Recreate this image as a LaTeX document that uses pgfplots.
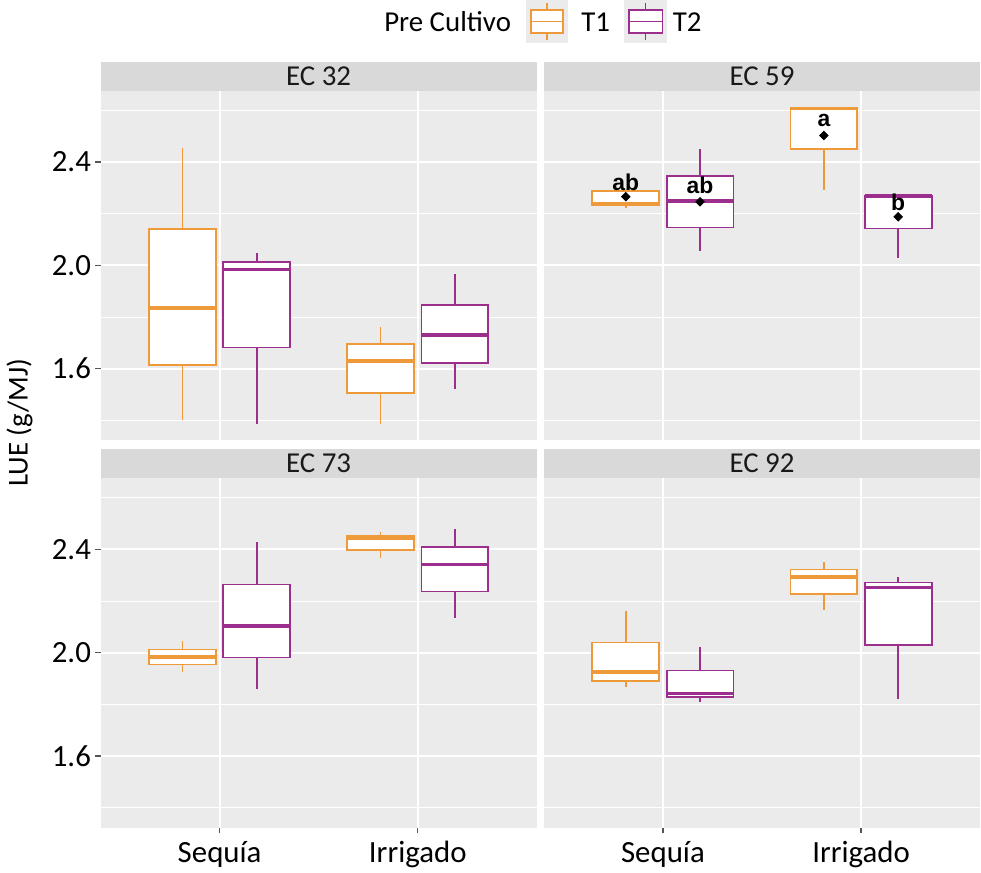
\documentclass[border=0pt]{standalone}
\usepackage{fontspec}
\setmainfont{Carlito}
\newfontfamily\letfont{Liberation Sans}
\usepackage{pgfplots}
\pgfplotsset{compat=1.18}
\usepgfplotslibrary{statistics}
\definecolor{tone}{HTML}{EE9A3A}
\definecolor{ttwo}{HTML}{9C2E8E}
\definecolor{panelbg}{HTML}{EBEBEB}
\definecolor{stripbg}{HTML}{D9D9D9}
\definecolor{tickgray}{HTML}{555555}
\newcommand{\tickfont}{\fontsize{15.5}{18}\selectfont}
\newcommand{\stripfont}{\fontsize{14.5}{17}\selectfont}
\newcommand{\labfont}{\fontsize{14.5}{17}\selectfont}
\newcommand{\lettfont}{\letfont\bfseries\fontsize{11.5}{13}\selectfont}
\pgfplotsset{
  facet/.style={
    scale only axis, width=219pt, height=175.8pt,
    xmin=0.4, xmax=2.6, ymin=1.322, ymax=2.677,
    clip=false,
    axis background/.style={fill=panelbg},
    axis line style={draw=none},
    xtick={1,2}, ytick={1.6,2.0,2.4},
    minor ytick={1.4,1.8,2.2,2.6},
    grid=both,
    major grid style={white, line width=1.1pt},
    minor grid style={white, line width=0.5pt},
    tick align=outside, tick pos=left,
    major tick length=2.75pt, minor tick length=0pt,
    tick style={tickgray, line width=0.6pt},
    xticklabels={Sequía,Irrigado},
    yticklabels={1.6,2.0,2.4},
    xticklabel style={font=\tickfont, inner sep=2pt, text=black, yshift=-2pt},
    yticklabel style={font=\tickfont, inner sep=2pt, text=black},
    boxplot/draw direction=y,
    boxplot/box extend=0.3375,
    boxplot/whisker extend=0,
    boxplot/every box/.style={fill=white},
    boxplot/every median/.style={line width=1.8pt},
  },
  notopx/.style={xticklabels={}, xtick style={draw=none}},
  norighty/.style={yticklabels={}, ytick style={draw=none}},
  b1/.style={draw=tone, line width=0.9pt, solid},
  b2/.style={draw=ttwo, line width=0.9pt, solid},
}
\newcommand{\strip}[1]{%
  \fill[stripbg] (rel axis cs:0,1) rectangle ([yshift=14.5pt]rel axis cs:1,1);
  \node[font=\stripfont, text=black!90] at ([yshift=7.25pt]rel axis cs:0.5,1) {#1};}
\begin{document}
\begin{tikzpicture}
\path (0,0) rectangle (490.5pt,-437pt);
% legend
\node[anchor=west, inner sep=0, font=\labfont] at (191pt,-11pt) {Pre Cultivo};
\fill[panelbg] (262.5pt,0pt) rectangle (283.5pt,-21.5pt);
\draw[tone, line width=0.9pt, fill=white] (265pt,-5pt) rectangle (281pt,-16.5pt);
\draw[tone, line width=0.9pt] (273pt,-1.5pt) -- (273pt,-5pt) (273pt,-16.5pt) -- (273pt,-20pt) (265pt,-10.75pt) -- (281pt,-10.75pt);
\node[anchor=west, inner sep=0, font=\labfont] at (290pt,-11pt) {T1};
\fill[panelbg] (311.5pt,0pt) rectangle (333.5pt,-21.5pt);
\draw[ttwo, line width=0.9pt, fill=white] (314pt,-5pt) rectangle (331pt,-16.5pt);
\draw[ttwo, line width=0.9pt] (322.5pt,-1.5pt) -- (322.5pt,-5pt) (322.5pt,-16.5pt) -- (322.5pt,-20pt) (314pt,-10.75pt) -- (331pt,-10.75pt);
\node[anchor=west, inner sep=0, font=\labfont] at (336pt,-11pt) {T2};
% y label
\node[rotate=90, font=\labfont] at (8pt,-212.5pt) {LUE (g/MJ)};

% EC 32
\begin{axis}[facet, notopx, at={(48.75pt,-45.5pt)}, anchor=north west]
\addplot[b1, boxplot prepared={draw direction=y, draw position=0.8125, lower whisker=1.400, lower quartile=1.614, median=1.835, upper quartile=2.141, upper whisker=2.455}] coordinates {};
\addplot[b2, boxplot prepared={draw direction=y, draw position=1.1875, lower whisker=1.384, lower quartile=1.682, median=1.984, upper quartile=2.013, upper whisker=2.047}] coordinates {};
\addplot[b1, boxplot prepared={draw direction=y, draw position=1.8125, lower whisker=1.384, lower quartile=1.505, median=1.629, upper quartile=1.695, upper whisker=1.760}] coordinates {};
\addplot[b2, boxplot prepared={draw direction=y, draw position=2.1875, lower whisker=1.520, lower quartile=1.623, median=1.730, upper quartile=1.845, upper whisker=1.968}] coordinates {};
\strip{EC 32}
\end{axis}

% EC 59
\begin{axis}[facet, notopx, norighty, at={(271.5pt,-45.5pt)}, anchor=north west]
\addplot[b1, boxplot prepared={draw direction=y, draw position=0.8125, lower whisker=2.224, lower quartile=2.232, median=2.239, upper quartile=2.287, upper whisker=2.289}] coordinates {};
\addplot[b2, boxplot prepared={draw direction=y, draw position=1.1875, lower whisker=2.055, lower quartile=2.147, median=2.250, upper quartile=2.347, upper whisker=2.449}] coordinates {};
\addplot[b1, boxplot prepared={draw direction=y, draw position=1.8125, lower whisker=2.293, lower quartile=2.450, median=2.608, upper quartile=2.610, upper whisker=2.615}] coordinates {};
\addplot[b2, boxplot prepared={draw direction=y, draw position=2.1875, lower whisker=2.027, lower quartile=2.143, median=2.268, upper quartile=2.270, upper whisker=2.274}] coordinates {};
\addplot[only marks, mark=square*, mark size=1.5pt, mark options={rotate=45}, black] coordinates {(0.8125,2.266) (1.1875,2.246) (1.8125,2.503) (2.1875,2.188)};
\node[font=\lettfont, inner sep=0] at (axis cs:0.8125,2.323) {ab};
\node[font=\lettfont, inner sep=0] at (axis cs:1.1875,2.310) {ab};
\node[font=\lettfont, inner sep=0] at (axis cs:1.8125,2.563) {a};
\node[font=\lettfont, inner sep=0] at (axis cs:2.1875,2.246) {b};
\strip{EC 59}
\end{axis}

% EC 73
\begin{axis}[facet, at={(48.75pt,-240.1pt)}, anchor=north west]
\addplot[b1, boxplot prepared={draw direction=y, draw position=0.8125, lower whisker=1.924, lower quartile=1.954, median=1.983, upper quartile=2.012, upper whisker=2.045}] coordinates {};
\addplot[b2, boxplot prepared={draw direction=y, draw position=1.1875, lower whisker=1.861, lower quartile=1.981, median=2.104, upper quartile=2.264, upper whisker=2.427}] coordinates {};
\addplot[b1, boxplot prepared={draw direction=y, draw position=1.8125, lower whisker=2.366, lower quartile=2.399, median=2.444, upper quartile=2.454, upper whisker=2.467}] coordinates {};
\addplot[b2, boxplot prepared={draw direction=y, draw position=2.1875, lower whisker=2.135, lower quartile=2.237, median=2.342, upper quartile=2.409, upper whisker=2.477}] coordinates {};
\strip{EC 73}
\end{axis}

% EC 92
\begin{axis}[facet, norighty, at={(271.5pt,-240.1pt)}, anchor=north west]
\addplot[b1, boxplot prepared={draw direction=y, draw position=0.8125, lower whisker=1.868, lower quartile=1.890, median=1.924, upper quartile=2.039, upper whisker=2.160}] coordinates {};
\addplot[b2, boxplot prepared={draw direction=y, draw position=1.1875, lower whisker=1.810, lower quartile=1.827, median=1.842, upper quartile=1.931, upper whisker=2.023}] coordinates {};
\addplot[b1, boxplot prepared={draw direction=y, draw position=1.8125, lower whisker=2.166, lower quartile=2.228, median=2.293, upper quartile=2.322, upper whisker=2.350}] coordinates {};
\addplot[b2, boxplot prepared={draw direction=y, draw position=2.1875, lower whisker=1.820, lower quartile=2.031, median=2.252, upper quartile=2.272, upper whisker=2.292}] coordinates {};
\strip{EC 92}
\end{axis}
\end{tikzpicture}
\end{document}
